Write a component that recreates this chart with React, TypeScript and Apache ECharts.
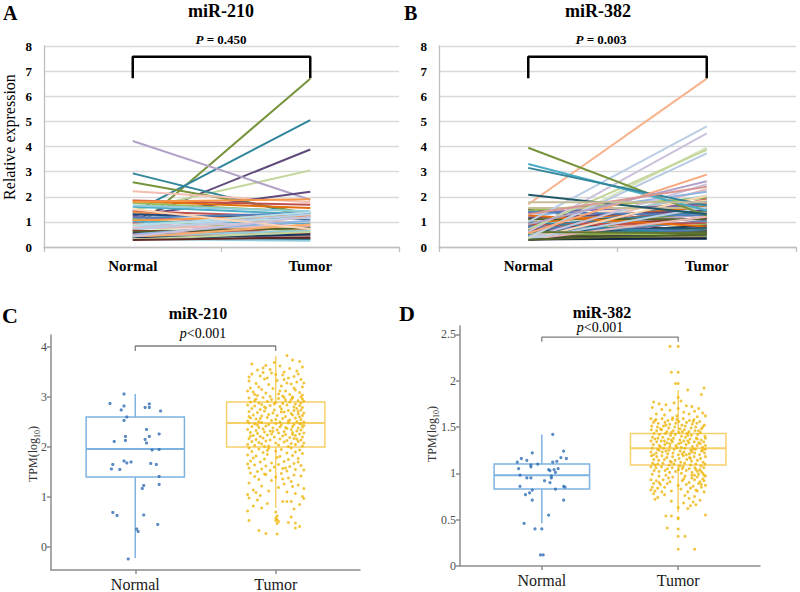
import React, { useEffect, useRef } from 'react';
import * as echarts from 'echarts';

const FONT = '"Liberation Serif", "Times New Roman", serif';

// ---------- Panels A / B : paired relative expression ----------
const pairCats = ['Normal', 'Tumor'];

const normal210 = [0.65, 1.37, 1.05, 1.45, 4.22, 2.93, 2.58, 2.22, 1.25, 1.85, 1.82, 1.75, 1.6, 1.42, 1.38, 1.3, 1.2, 1.15, 1.1, 1.05, 1.0, 0.95, 0.9, 0.88, 0.82, 0.78, 0.75, 0.7, 0.65, 0.6, 0.55, 0.5, 0.48, 0.45, 0.4, 0.38, 0.35, 0.32, 0.3, 0.28, 1.65, 0.85, 1.5, 0.42, 1.8];
const tumor210 = [6.7, 5.05, 3.88, 3.05, 1.88, 1.18, 1.32, 1.78, 2.2, 1.68, 1.55, 1.4, 1.3, 1.2, 0.9, 1.1, 0.8, 1.35, 0.6, 1.25, 0.95, 0.5, 1.15, 0.7, 1.0, 0.4, 0.85, 1.3, 0.55, 0.75, 0.35, 1.05, 0.45, 0.65, 0.3, 0.9, 0.5, 0.25, 0.6, 0.38, 1.42, 1.38, 0.72, 1.2, 1.9];
const colors210 = ['#77933C', '#31859C', '#604A7B', '#C3D69B', '#B3A2C7', '#31859C', '#77933C', '#F4BFB0', '#604A7B', '#C0504D', '#E46C0A', '#9BBB59', '#4BACC6', '#C0504D', '#F79646', '#1F497D', '#8064A2', '#4F81BD', '#9BBB59', '#F79646', '#4BACC6', '#C0504D', '#B7DEE8', '#FAC090', '#CCC1DA', '#D7E4BD', '#E6B9B8', '#B9CDE5', '#953735', '#4F6228', '#3F3151', '#8EB4E3', '#D99694', '#93CDDD', '#215968', '#F9AB6B', '#17375E', '#92CDDC', '#C3D69B', '#632523', '#93CDDD', '#B7DEE8', '#FCD5B5', '#CCC0DA', '#F79646'];

const normal382 = [1.7, 1.0, 0.6, 0.35, 0.7, 0.4, 3.95, 3.3, 3.15, 2.08, 0.55, 0.9, 1.3, 1.78, 1.5, 0.35, 0.3, 1.2, 0.8, 1.45, 0.45, 1.05, 0.65, 0.3, 1.35, 0.5, 0.95, 0.3, 0.75, 1.15, 0.4, 0.85, 0.3, 0.6, 1.4, 0.35, 0.7, 1.1, 0.3, 0.55, 0.9, 0.3, 0.45, 1.25, 0.3, 0.65, 0.35, 0.5, 0.3, 0.8, 0.4, 0.3, 0.55, 1.0, 0.3, 0.3, 0.35, 0.3, 1.55, 0.3, 0.32, 0.3, 0.6];
const tumor382 = [6.7, 4.8, 4.52, 3.95, 3.87, 3.73, 1.25, 1.45, 1.65, 1.3, 2.88, 2.62, 2.4, 1.78, 0.5, 0.33, 2.3, 2.2, 2.05, 1.95, 1.9, 1.85, 1.8, 1.75, 1.7, 1.65, 1.6, 1.55, 1.5, 1.45, 1.42, 1.38, 1.35, 1.3, 1.25, 1.2, 1.15, 1.1, 1.05, 1.0, 0.95, 0.9, 0.85, 0.82, 0.78, 0.75, 0.7, 0.68, 0.65, 0.62, 0.6, 0.55, 0.5, 0.45, 0.42, 2.05, 2.5, 1.2, 1.55, 0.35, 1.58, 0.5, 0.55];
const colors382 = ['#F8B28C', '#B9CDE5', '#CCC1DA', '#D7E4BD', '#C3D69B', '#B7C9E2', '#77933C', '#4BACC6', '#31859C', '#215968', '#F9A77A', '#B3A2C7', '#D99694', '#C4BD97', '#632523', '#1F3864', '#E6B9B8', '#8EB4E3', '#93CDDD', '#9BBB59', '#C0504D', '#FCD5B5', '#4F81BD', '#F79646', '#8064A2', '#4BACC6', '#E46C0A', '#9BBB59', '#C0504D', '#604A7B', '#77933C', '#31859C', '#D99694', '#B3A2C7', '#4F81BD', '#F79646', '#953735', '#4F6228', '#8064A2', '#4BACC6', '#C0504D', '#9BBB59', '#17375E', '#E46C0A', '#604A7B', '#215968', '#77933C', '#31859C', '#632523', '#4F81BD', '#4F6228', '#3F3151', '#9BBB59', '#31859C', '#948A54', '#FCD5B5', '#CCC1DA', '#E6B9B8', '#C4BD97', '#0F243E', '#B9CDE5', '#4F6228', '#5F7530'];
const prominent382 = 14;

const bracketAB = { low: 6.72, high: 7.57 };

// ---------- Panels C / D : TCGA TPM(log10) ----------
const tcgaCats = ['Normal', 'Tumor'];
// [position, lower whisker, Q1, median, Q3, upper whisker]
const box210 = [[1, -0.22, 1.4, 1.96, 2.6, 3.06], [2, 0.78, 2.0, 2.48, 2.9, 3.82]];
const box382 = [[1, 0.46, 0.83, 0.98, 1.1, 1.42], [2, 0.58, 1.09, 1.27, 1.43, 1.9]];
const boxColors = ['#7DB2DF', '#F7D06A'];
const pointColors = ['#2F6DB5', '#EDB60F'];

// [jitter offset, TPM(log10)]
const tpm210Normal = [[-0.08, 3.06], [-0.18, 2.87], [-0.08, 2.82], [-0.1, 2.74], [0.1, 2.86], [0.07, 2.79], [0.1, 2.79], [0.18, 2.72], [-0.06, 2.6], [-0.08, 2.53], [0.08, 2.35], [0.17, 2.26], [0.1, 2.21], [-0.07, 2.21], [-0.07, 2.13], [0.07, 2.15], [0.08, 2.08], [-0.15, 2.11], [0.12, 1.94], [0.17, 1.95], [-0.08, 1.72], [-0.06, 1.68], [-0.03, 1.7], [-0.16, 1.65], [-0.17, 1.56], [-0.11, 1.55], [0.11, 1.67], [0.15, 1.65], [0.17, 1.41], [0.17, 1.25], [0.06, 1.23], [0.05, 1.17], [-0.16, 0.69], [-0.13, 0.63], [0.06, 0.64], [0.16, 0.45], [0.01, 0.36], [0.02, 0.31], [-0.05, -0.24]];

const tpm210Tumor = [
  [0.08, 3.83], [-0.17, 3.66], [0.12, 3.74], [0.03, 3.62], [-0.09, 3.58], [0.19, 3.6], [-0.04, 3.55], [0.15, 3.52], [-0.13, 3.54], [0.06, 3.5], [-0.01, 3.69], [0.1, 3.57], [0.17, 3.71], [-0.07, 3.63],
  [-0.17, 3.46], [-0.11, 3.42], [-0.03, 3.48], [0.05, 3.44], [0.13, 3.41], [0.18, 3.35], [-0.19, 3.32], [-0.08, 3.36], [0.01, 3.33], [0.09, 3.38], [0.15, 3.3], [-0.14, 3.27], [-0.05, 3.25], [0.04, 3.22], [0.11, 3.26], [0.19, 3.2], [-0.18, 3.18], [-0.1, 3.15], [-0.02, 3.17], [0.07, 3.12], [0.14, 3.14], [-0.16, 3.1], [-0.07, 3.08], [0.02, 3.06], [0.1, 3.05], [0.17, 3.09], [-0.13, 3.03], [-0.04, 3.01], [0.05, 3.02], [0.12, 3.0], [0.19, 3.04], [-0.19, 3.4], [-0.12, 3.2], [0.0, 3.45], [0.08, 3.28], [0.16, 3.46], [-0.06, 3.38], [0.13, 3.18], [-0.15, 3.05], [0.03, 3.12], [0.18, 3.0], [-0.09, 3.49], [0.06, 3.35], [-0.2, 3.12], [0.2, 3.28],
  [-0.19, 2.98], [-0.14, 2.96], [-0.09, 2.99], [-0.03, 2.95], [0.02, 2.97], [0.07, 2.94], [0.12, 2.98], [0.16, 2.93], [0.19, 2.96], [-0.18, 2.9], [-0.12, 2.88], [-0.06, 2.91], [0.0, 2.89], [0.05, 2.87], [0.1, 2.9], [0.14, 2.86], [0.18, 2.88], [0.2, 2.92], [-0.2, 2.84], [-0.15, 2.82], [-0.1, 2.85], [-0.04, 2.83], [0.03, 2.81], [0.08, 2.84], [0.13, 2.8], [0.17, 2.83], [0.19, 2.79], [-0.17, 2.77], [-0.11, 2.75], [-0.07, 2.78], [-0.01, 2.74], [0.04, 2.76], [0.09, 2.73], [0.15, 2.77], [0.18, 2.74], [-0.19, 2.71], [-0.13, 2.69], [-0.08, 2.72], [-0.02, 2.68], [0.06, 2.7], [0.11, 2.67], [0.16, 2.71], [0.2, 2.68], [-0.16, 2.64], [-0.1, 2.62], [-0.05, 2.65], [0.01, 2.63], [0.07, 2.61], [0.12, 2.64], [0.17, 2.6], [0.19, 2.63], [-0.18, 2.58], [-0.14, 2.56], [-0.06, 2.59], [0.0, 2.55], [0.05, 2.57], [0.1, 2.54], [0.14, 2.58], [0.18, 2.55], [-0.2, 2.52], [-0.12, 2.51], [-0.03, 2.53], [0.03, 2.5], [0.09, 2.52], [0.15, 2.51], [0.2, 2.5], [-0.15, 2.93], [-0.08, 2.8], [0.11, 2.95], [-0.01, 2.86], [0.16, 2.66], [-0.19, 2.61], [0.04, 2.7], [0.13, 2.73], [-0.11, 2.57], [0.06, 2.99],
  [-0.19, 2.48], [-0.15, 2.46], [-0.1, 2.49], [-0.05, 2.45], [0.0, 2.47], [0.04, 2.44], [0.09, 2.48], [0.13, 2.45], [0.17, 2.47], [0.2, 2.43], [-0.17, 2.41], [-0.12, 2.39], [-0.07, 2.42], [-0.02, 2.38], [0.03, 2.4], [0.08, 2.37], [0.12, 2.41], [0.16, 2.38], [0.19, 2.4], [-0.2, 2.35], [-0.14, 2.33], [-0.09, 2.36], [-0.04, 2.32], [0.01, 2.34], [0.06, 2.31], [0.11, 2.35], [0.15, 2.32], [0.18, 2.34], [-0.18, 2.29], [-0.13, 2.27], [-0.08, 2.3], [-0.03, 2.26], [0.02, 2.28], [0.07, 2.25], [0.12, 2.29], [0.17, 2.26], [0.2, 2.28], [-0.16, 2.23], [-0.11, 2.21], [-0.06, 2.24], [-0.01, 2.2], [0.05, 2.22], [0.1, 2.19], [0.14, 2.23], [0.19, 2.2], [-0.19, 2.17], [-0.14, 2.15], [-0.09, 2.18], [-0.04, 2.14], [0.03, 2.16], [0.08, 2.13], [0.13, 2.17], [0.18, 2.14], [-0.17, 2.11], [-0.12, 2.09], [-0.07, 2.12], [0.0, 2.08], [0.06, 2.1], [0.11, 2.07], [0.16, 2.11], [0.2, 2.08], [-0.2, 2.05], [-0.15, 2.03], [-0.1, 2.06], [-0.05, 2.02], [0.02, 2.04], [0.09, 2.01], [0.14, 2.05], [0.19, 2.02], [-0.13, 2.44], [0.07, 2.39], [-0.18, 2.22], [0.15, 2.16], [-0.02, 2.31], [0.18, 2.46], [-0.08, 2.01], [0.12, 2.25],
  [-0.19, 1.98], [-0.12, 1.96], [-0.05, 1.97], [0.04, 1.95], [0.11, 1.98], [0.17, 1.94], [-0.17, 1.91], [-0.09, 1.89], [0.0, 1.92], [0.08, 1.88], [0.14, 1.9], [0.19, 1.87], [-0.2, 1.84], [-0.14, 1.82], [-0.06, 1.85], [0.03, 1.81], [0.12, 1.83], [-0.16, 1.78], [-0.08, 1.76], [0.01, 1.79], [0.09, 1.75], [0.16, 1.77], [-0.18, 1.72], [-0.11, 1.7], [-0.03, 1.68], [0.06, 1.71], [0.13, 1.67], [-0.15, 1.64], [-0.07, 1.62], [0.02, 1.65], [0.1, 1.61], [0.18, 1.63], [-0.19, 1.58], [-0.1, 1.56], [0.05, 1.57], [0.14, 1.55], [-0.04, 1.53], [0.08, 1.52], [-0.13, 1.51], [0.2, 1.54], [-0.01, 1.6], [0.07, 1.58], [-0.2, 1.66], [0.16, 1.7], [-0.06, 1.93],
  [-0.18, 1.48], [-0.08, 1.46], [0.04, 1.47], [0.13, 1.44], [-0.15, 1.41], [0.0, 1.4], [0.09, 1.38], [0.18, 1.42], [-0.12, 1.35], [-0.03, 1.33], [0.11, 1.31], [-0.19, 1.28], [0.06, 1.26], [0.16, 1.24], [-0.1, 1.22], [0.02, 1.19], [0.2, 1.17], [-0.16, 1.14], [-0.05, 1.12], [0.08, 1.1], [0.14, 1.07], [-0.2, 1.05], [-0.11, 1.03], [0.19, 1.01], [0.05, 1.36], [-0.07, 1.45], [0.12, 1.21], [-0.14, 1.09],
  [-0.19, 0.98], [-0.13, 0.94], [0.05, 0.91], [0.08, 0.91], [0.11, 0.91], [-0.06, 0.87], [0.17, 0.85], [-0.16, 0.82], [-0.1, 0.78], [0.13, 0.76], [-0.2, 0.72], [0.0, 0.7], [0.2, 0.97], [0.01, 0.62], [0.0, 0.58], [0.01, 0.55], [0.0, 0.53], [0.11, 0.6], [-0.19, 0.53], [0.02, 0.51],
  [0.09, 0.49], [0.14, 0.48], [0.01, 0.47], [0.14, 0.38], [-0.07, 0.27], [0.01, 0.26], [0.17, 0.41], [-0.12, 0.33]
];

const tpm382Normal = [[0.08, 1.42], [0.16, 1.24], [-0.07, 1.22], [0.14, 1.17], [0.18, 1.16], [-0.15, 1.16], [-0.11, 1.14], [-0.18, 1.12], [0.11, 1.13], [0.08, 1.12], [-0.03, 1.1], [-0.08, 1.09], [-0.08, 1.07], [-0.17, 1.05], [0.12, 1.05], [0.09, 1.04], [0.05, 1.04], [0.06, 1.03], [0.1, 1.01], [-0.16, 0.98], [-0.11, 0.95], [-0.08, 0.95], [0.07, 0.97], [0.07, 0.95], [0.02, 0.92], [0.06, 0.9], [0.16, 0.86], [0.17, 0.85], [-0.16, 0.86], [0.1, 0.83], [-0.07, 0.82], [-0.09, 0.79], [-0.12, 0.77], [-0.07, 0.71], [0.16, 0.71], [0.05, 0.55], [-0.13, 0.46], [-0.05, 0.4], [0.0, 0.4], [-0.01, 0.12], [0.01, 0.12]];

const tpm382Tumor = [
  [-0.06, 2.37], [0.0, 2.37], [-0.05, 2.09], [0.0, 2.09], [-0.02, 1.97], [0.0, 1.97], [0.07, 1.9], [0.19, 1.92], [0.17, 1.85], [0.0, 1.82],
  [-0.18, 1.77], [-0.14, 1.75], [-0.09, 1.74], [-0.03, 1.76], [0.02, 1.78], [0.06, 1.73], [0.1, 1.72], [0.15, 1.7], [-0.19, 1.71], [-0.12, 1.69], [-0.06, 1.68], [0.0, 1.7], [0.04, 1.66], [0.12, 1.67], [0.18, 1.65], [-0.16, 1.64], [-0.1, 1.63], [-0.01, 1.62], [0.08, 1.64], [0.14, 1.61], [-0.04, 1.6], [0.2, 1.62],
  [-0.2, 1.59], [-0.163, 1.58], [-0.118, 1.59], [-0.075, 1.57], [-0.043, 1.58], [0.004, 1.56], [0.037, 1.59], [0.083, 1.57], [0.116, 1.58], [0.158, 1.56], [-0.181, 1.55], [-0.146, 1.54], [-0.097, 1.55], [-0.062, 1.53], [-0.018, 1.54], [0.027, 1.52], [0.061, 1.55], [0.103, 1.53], [0.137, 1.54], [0.192, 1.52], [-0.194, 1.51], [-0.152, 1.5], [-0.108, 1.51], [-0.069, 1.49], [-0.026, 1.5], [0.013, 1.48], [0.052, 1.51], [0.094, 1.49], [0.128, 1.5], [0.171, 1.48], [-0.197, 1.47], [-0.158, 1.46], [-0.121, 1.47], [-0.083, 1.45], [-0.037, 1.46], [0.006, 1.44], [0.046, 1.47], [0.078, 1.45], [0.124, 1.46], [0.163, 1.44], [-0.177, 1.43], [-0.138, 1.42], [-0.094, 1.43], [-0.056, 1.41], [-0.021, 1.42], [0.024, 1.4], [0.064, 1.43], [0.097, 1.41], [0.143, 1.42], [0.196, 1.4], [-0.17, 1.57], [-0.09, 1.52], [0.03, 1.45], [0.11, 1.56], [-0.13, 1.48], [0.07, 1.41], [0.18, 1.5], [-0.05, 1.44], [0.15, 1.46], [-0.01, 1.58],
  [-0.188, 1.39], [-0.148, 1.38], [-0.113, 1.39], [-0.072, 1.37], [-0.034, 1.38], [0.012, 1.36], [0.053, 1.39], [0.087, 1.37], [0.133, 1.38], [0.168, 1.36], [0.2, 1.38], [-0.199, 1.35], [-0.157, 1.34], [-0.124, 1.35], [-0.081, 1.33], [-0.042, 1.34], [0.003, 1.32], [0.041, 1.35], [0.079, 1.33], [0.118, 1.34], [0.162, 1.32], [0.187, 1.34], [-0.183, 1.31], [-0.139, 1.3], [-0.098, 1.31], [-0.061, 1.29], [-0.017, 1.3], [0.022, 1.28], [0.058, 1.31], [0.104, 1.29], [0.139, 1.3], [0.179, 1.28], [-0.191, 1.27], [-0.152, 1.26], [-0.107, 1.27], [-0.068, 1.25], [-0.029, 1.26], [0.014, 1.24], [0.049, 1.27], [0.092, 1.25], [0.127, 1.26], [0.172, 1.24], [0.199, 1.26], [-0.2, 1.23], [-0.161, 1.22], [-0.117, 1.23], [-0.077, 1.21], [-0.038, 1.22], [0.001, 1.2], [0.043, 1.23], [0.082, 1.21], [0.121, 1.22], [0.157, 1.2], [0.193, 1.22], [-0.17, 1.37], [-0.13, 1.29], [-0.09, 1.24], [-0.05, 1.36], [-0.01, 1.28], [0.03, 1.21], [0.07, 1.35], [0.11, 1.26], [0.15, 1.33], [0.18, 1.25], [-0.18, 1.2], [-0.06, 1.32], [0.06, 1.2], [0.14, 1.37], [-0.1, 1.35], [0.02, 1.33], [0.1, 1.23], [-0.14, 1.25], [0.2, 1.3],
  [-0.196, 1.19], [-0.157, 1.18], [-0.119, 1.19], [-0.083, 1.17], [-0.041, 1.18], [0.007, 1.16], [0.038, 1.19], [0.084, 1.17], [0.117, 1.18], [0.164, 1.16], [0.2, 1.18], [-0.179, 1.15], [-0.143, 1.14], [-0.101, 1.15], [-0.058, 1.13], [-0.023, 1.14], [0.019, 1.12], [0.063, 1.15], [0.098, 1.13], [0.141, 1.14], [0.183, 1.12], [-0.187, 1.11], [-0.149, 1.1], [-0.112, 1.11], [-0.066, 1.09], [-0.031, 1.1], [0.011, 1.08], [0.047, 1.11], [0.091, 1.09], [0.129, 1.1], [0.168, 1.08], [0.197, 1.1], [-0.2, 1.07], [-0.163, 1.06], [-0.122, 1.07], [-0.079, 1.05], [-0.044, 1.06], [0.002, 1.04], [0.036, 1.07], [0.081, 1.05], [0.123, 1.06], [0.159, 1.04], [0.188, 1.06], [-0.176, 1.03], [-0.141, 1.02], [-0.096, 1.03], [-0.063, 1.01], [-0.019, 1.02], [0.024, 1.0], [0.059, 1.03], [0.102, 1.01], [0.142, 1.02], [0.181, 1.0], [0.15, 0.99], [0.12, 0.98], [0.17, 1.02], [0.13, 1.04], [0.19, 0.98], [-0.17, 1.09], [0.09, 1.16], [-0.05, 1.12], [0.03, 1.05],
  [-0.19, 0.99], [-0.14, 0.97], [-0.09, 0.98], [-0.04, 0.96], [0.05, 0.97], [0.1, 0.95], [0.14, 0.96], [0.18, 0.94], [0.2, 0.97], [-0.2, 0.93], [-0.16, 0.92], [-0.11, 0.93], [-0.06, 0.91], [0.03, 0.92], [0.08, 0.9], [0.12, 0.93], [0.16, 0.91], [0.19, 0.92], [-0.18, 0.89], [-0.13, 0.88], [-0.08, 0.89], [0.0, 0.87], [0.06, 0.88], [0.11, 0.86], [0.15, 0.89], [0.2, 0.87], [-0.19, 0.85], [-0.15, 0.84], [-0.1, 0.85], [0.02, 0.83], [0.09, 0.84], [0.13, 0.82], [0.17, 0.85], [-0.17, 0.81], [-0.12, 0.8], [-0.05, 0.81], [0.07, 0.8], [0.14, 0.81], [0.19, 0.8], [-0.14, 0.9], [0.04, 0.94], [0.17, 0.88], [-0.2, 0.82], [0.1, 0.98], [-0.07, 0.95],
  [-0.18, 0.78], [-0.1, 0.77], [0.05, 0.76], [0.12, 0.75], [-0.15, 0.74], [-0.17, 0.72], [0.08, 0.73], [0.16, 0.71], [-0.05, 0.7], [0.11, 0.69], [0.04, 0.68], [0.13, 0.66], [0.09, 0.65], [0.0, 0.63], [0.07, 0.62],
  [-0.09, 0.54], [-0.05, 0.54], [0.0, 0.52], [0.0, 0.51], [0.2, 0.55], [-0.08, 0.41], [0.0, 0.4], [0.0, 0.32], [0.05, 0.32], [0.0, 0.18], [0.12, 0.18]
];

const ticks210 = [0, 1, 2, 3, 4];
const ticks382 = [0, 0.5, 1, 1.5, 2, 2.5];
const bracketC = { low: 3.92, high: 4.02 };
const bracketD = { low: 2.42, high: 2.47 };

function boxRenderer(params: any, api: any) {
  const x = api.value(0);
  const lo = api.coord([x, api.value(1)]);
  const q1 = api.coord([x, api.value(2)]);
  const med = api.coord([x, api.value(3)]);
  const q3 = api.coord([x, api.value(4)]);
  const hi = api.coord([x, api.value(5)]);
  const hw = api.size([0.35, 0])[0];
  const c = boxColors[params.dataIndex];
  const st = { stroke: c, lineWidth: 1.5, fill: 'none' };
  return {
    type: 'group',
    children: [
      { type: 'line', shape: { x1: hi[0], y1: hi[1], x2: q3[0], y2: q3[1] }, style: st },
      { type: 'line', shape: { x1: q1[0], y1: q1[1], x2: lo[0], y2: lo[1] }, style: st },
      { type: 'rect', shape: { x: q3[0] - hw, y: q3[1], width: hw * 2, height: q1[1] - q3[1] }, style: st },
      { type: 'line', shape: { x1: med[0] - hw, y1: med[1], x2: med[0] + hw, y2: med[1] }, style: { stroke: c, lineWidth: 2 } },
    ],
  };
}

function pairAxes(gridIndex: number) {
  return {
    x: {
      gridIndex, type: 'category', data: pairCats, boundaryGap: true,
      axisLine: { show: true, lineStyle: { color: '#BFBFBF', width: 1.3 } },
      axisTick: { show: true, length: 5, lineStyle: { color: '#BFBFBF', width: 1.3 } },
      axisLabel: { color: '#000', fontFamily: FONT, fontWeight: 'bold', fontSize: 15, margin: 11 },
      splitLine: { show: false },
    },
    y: {
      gridIndex, type: 'value', min: 0, max: 8, interval: 1,
      axisLine: { show: true, lineStyle: { color: '#BFBFBF', width: 1.3 } },
      axisTick: { show: false },
      splitLine: { show: true, lineStyle: { color: '#D9D9D9', width: 1.3 } },
      axisLabel: { color: '#000', fontFamily: FONT, fontWeight: 'bold', fontSize: 13, margin: 12 },
    },
  };
}

function tcgaAxes(gridIndex: number, min: number, max: number, ticks: number[]) {
  const ax = { color: '#8C8C8C', width: 1.5 };
  return {
    x: {
      gridIndex, type: 'value', min: 0.4, max: 2.6,
      splitLine: { show: false },
      axisLine: { show: true, onZero: false, lineStyle: ax },
      axisTick: { show: true, customValues: [1, 2], length: 4, lineStyle: ax },
      axisLabel: { customValues: [1, 2], formatter: (v: number) => tcgaCats[Math.round(v) - 1], fontFamily: FONT, fontSize: 16, color: '#1A1A1A', margin: 6 },
    },
    y: {
      gridIndex, type: 'value', min, max,
      splitLine: { show: false },
      axisLine: { show: true, onZero: false, lineStyle: ax },
      axisTick: { show: true, customValues: ticks, length: 4, lineStyle: ax },
      axisLabel: { customValues: ticks, fontFamily: FONT, fontSize: 12, color: '#4D4D4D', margin: 4 },
    },
  };
}

function txt(x: number, y: number, text: string, size: number, weight: string, extra: any = {}) {
  return {
    type: 'text', x, y, silent: true, ...extra,
    style: {
      text, fontFamily: FONT, fontSize: size, fontWeight: weight, fill: '#000',
      align: 'center', verticalAlign: 'middle', textAlign: 'center', textVerticalAlign: 'middle',
      ...(extra.styleExtra || {}),
    },
  };
}

export default function App() {
  const ref = useRef<HTMLDivElement>(null);
  useEffect(() => {
    document.body.style.margin = '0';
    const chart = echarts.init(ref.current!, null, { renderer: 'svg' });
    const a = pairAxes(0), b = pairAxes(1);
    const c = tcgaAxes(2, -0.46, 4.24, ticks210);
    const d = tcgaAxes(3, 0, 2.59, ticks382);

    const series: any[] = [];
    normal210.forEach((n, i) => {
      series.push({ type: 'line', xAxisIndex: 0, yAxisIndex: 0, data: [n, tumor210[i]], symbol: 'none', silent: true, lineStyle: { color: colors210[i], width: 2 } });
    });
    const orderB = normal382.map((_, i) => i).filter(i => i >= prominent382).concat(normal382.map((_, i) => i).filter(i => i < prominent382));
    orderB.forEach(i => {
      series.push({ type: 'line', xAxisIndex: 1, yAxisIndex: 1, data: [normal382[i], tumor382[i]], symbol: 'none', silent: true, lineStyle: { color: colors382[i], width: 2 } });
    });
    [0, 1].forEach(k => {
      series.push({ type: 'line', xAxisIndex: k, yAxisIndex: k, symbol: 'none', silent: true, z: 5,
        data: [[0, bracketAB.low], [0, bracketAB.high], [1, bracketAB.high], [1, bracketAB.low]],
        lineStyle: { color: '#000', width: 2.5 } });
    });
    const tc: any[] = [[2, box210, tpm210Normal, tpm210Tumor, bracketC], [3, box382, tpm382Normal, tpm382Tumor, bracketD]];
    tc.forEach(([k, box, nor, tum, br]) => {
      series.push({ type: 'custom', xAxisIndex: k, yAxisIndex: k, data: box, renderItem: boxRenderer, silent: true, encode: { x: 0, y: [1, 2, 3, 4, 5] } });
      series.push({ type: 'scatter', xAxisIndex: k, yAxisIndex: k, silent: true, symbolSize: 3.2, itemStyle: { color: pointColors[0] }, data: nor.map((p: number[]) => [1 + p[0], p[1]]) });
      series.push({ type: 'scatter', xAxisIndex: k, yAxisIndex: k, silent: true, symbolSize: 3, itemStyle: { color: pointColors[1] }, data: tum.map((p: number[]) => [2 + p[0], p[1]]) });
      series.push({ type: 'line', xAxisIndex: k, yAxisIndex: k, symbol: 'none', silent: true,
        data: [[1, br.low], [1, br.high], [2, br.high], [2, br.low]], lineStyle: { color: '#7F7F7F', width: 1.3 } });
    });

    const italicRich = (size: number, weight: string) => ({ i: { fontStyle: 'italic', fontWeight: weight, fontSize: size, fontFamily: FONT, fill: '#000', color: '#000' } });
    const tpmRich = {
      a: { fontSize: 12, fontFamily: FONT, fill: '#333', color: '#333', verticalAlign: 'top', lineHeight: 15 },
      s: { fontSize: 8, fontFamily: FONT, fill: '#333', color: '#333', verticalAlign: 'bottom', lineHeight: 15 },
    };

    const graphic = [
      { type: 'text', left: 3, top: 3, silent: true, style: { text: 'A', fontFamily: FONT, fontSize: 20, fontWeight: 'bold', fill: '#000' } },
      { type: 'text', left: 404, top: 3, silent: true, style: { text: 'B', fontFamily: FONT, fontSize: 20, fontWeight: 'bold', fill: '#000' } },
      { type: 'text', left: 2, top: 304, silent: true, style: { text: 'C', fontFamily: FONT, fontSize: 22, fontWeight: 'bold', fill: '#000' } },
      { type: 'text', left: 399, top: 302, silent: true, style: { text: 'D', fontFamily: FONT, fontSize: 22, fontWeight: 'bold', fill: '#000' } },
      txt(221, 11, 'miR-210', 18, 'bold'),
      txt(598, 11, 'miR-382', 18, 'bold'),
      txt(198, 313, 'miR-210', 16, 'bold'),
      txt(602, 312, 'miR-382', 16, 'bold'),
      txt(221, 39, '{i|P} = 0.450', 13, 'bold', { styleExtra: { rich: italicRich(13, 'bold') } }),
      txt(601, 39, '{i|P} = 0.003', 13, 'bold', { styleExtra: { rich: italicRich(13, 'bold') } }),
      txt(203, 333, '{i|p}<0.001', 14, 'normal', { styleExtra: { rich: italicRich(14, 'normal') } }),
      txt(600, 327, '{i|p}<0.001', 14, 'normal', { styleExtra: { rich: italicRich(14, 'normal') } }),
      txt(9, 137, 'Relative expression', 16, 'normal', { rotation: Math.PI / 2 }),
      txt(34, 454, '{a|TPM(log}{s|10}{a|)}', 12, 'normal', { rotation: Math.PI / 2, styleExtra: { rich: tpmRich } }),
      txt(433, 434, '{a|TPM(log}{s|10}{a|)}', 12, 'normal', { rotation: Math.PI / 2, styleExtra: { rich: tpmRich } }),
    ];

    chart.setOption({
      animation: false,
      backgroundColor: '#fff',
      grid: [
        { left: 44, top: 46, width: 355, height: 201 },
        { left: 439, top: 46, width: 357, height: 201 },
        { left: 51, top: 335, width: 309, height: 235 },
        { left: 460, top: 326, width: 300, height: 240 },
      ],
      xAxis: [a.x, b.x, c.x, d.x],
      yAxis: [a.y, b.y, c.y, d.y],
      series,
      graphic,
    });
    return () => chart.dispose();
  }, []);
  return <div ref={ref} style={{ position: 'absolute', left: 0, top: 0, width: 800, height: 592 }} />;
}
